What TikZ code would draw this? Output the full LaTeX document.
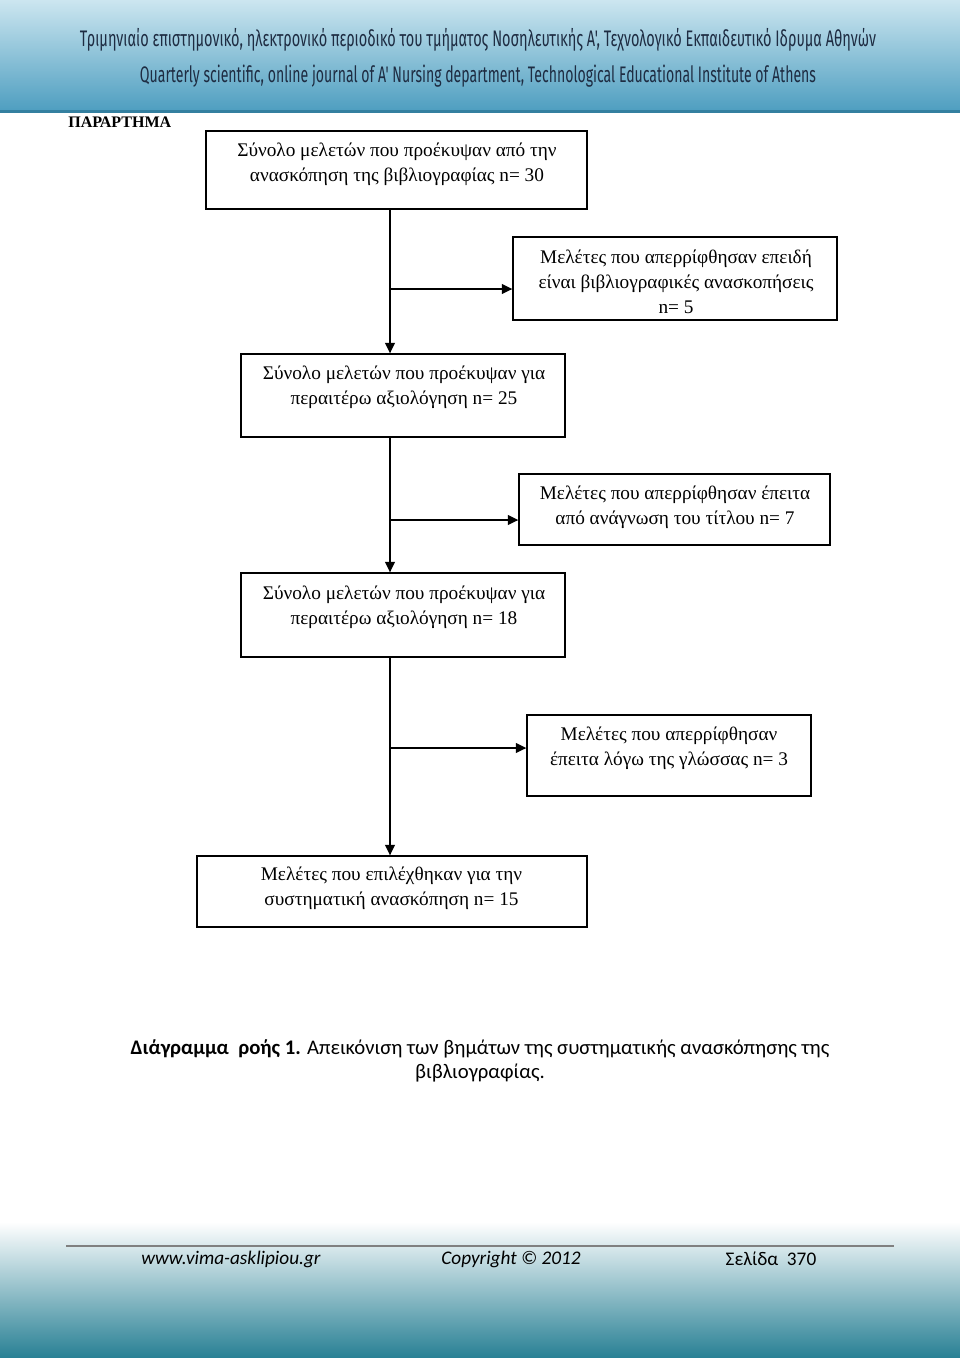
\documentclass[tikz,border=0pt]{standalone}
\usepackage{fontspec}
\setmainfont{Liberation Serif}
\newfontfamily\capfont{Carlito}
\newfontfamily\headfont{Fira Sans}
\usetikzlibrary{positioning,arrows.meta}
\newlength\px
\setlength\px{0.021875cm}
\definecolor{bantop}{RGB}{204,230,240}
\definecolor{banbot}{RGB}{78,158,192}
\definecolor{banedge}{RGB}{52,128,160}
\definecolor{headtxt}{RGB}{30,44,66}
\definecolor{footmid}{RGB}{206,218,224}
\definecolor{footbot}{RGB}{40,128,148}
\tikzset{
    box/.style={draw, line width=0.8pt},
    boxtxt/.style={align=center, inner sep=0pt, font=\fontsize{12}{15.5}\selectfont},
    arr/.style={line width=1pt, -{Triangle[length=6.5pt,width=6pt]}}
}
\begin{document}
\begin{tikzpicture}[x=\px, y=-\px]
    \useasboundingbox (0,0) rectangle (960,1358);
    % κεφαλίδα
    \shade[top color=bantop, bottom color=banbot] (0,0) rectangle (960,111);
    \fill[banedge] (0,110) rectangle (960,113);
    \node[headtxt, inner sep=0pt] (headgr) at (478,40)
        {\resizebox{796\px}{\height}{\headfont\fontsize{14}{14}\selectfont Τριμηνιαίο επιστημονικό, ηλεκτρονικό περιοδικό του τμήματος Νοσηλευτικής Α', Τεχνολογικό Εκπαιδευτικό Ιδρυμα Αθηνών}};
    \node[headtxt, inner sep=0pt] (headen) at (478,76)
        {\resizebox{676\px}{\height}{\headfont\fontsize{14}{14}\selectfont Quarterly scientific, online journal of A' Nursing department, Technological Educational Institute of Athens}};
    \node[anchor=west, inner sep=0pt, font=\fontsize{10}{12}\selectfont\bfseries] (annex) at (68,122) {ΠΑΡΑΡΤΗΜΑ};

    % κουτιά
    \node[box, minimum width=381\px, minimum height=78\px] (total) at (396.5,170) {};
    \node[boxtxt] (totaltxt) at (397,164.5) {Σύνολο μελετών που προέκυψαν από την\\ανασκόπηση της βιβλιογραφίας n= 30};
    \node[box, minimum width=324\px, minimum height=83\px] (r5) at (675,278.5) {};
    \node[boxtxt] (r5txt) at (676,282) {Μελέτες που απερρίφθησαν επειδή\\είναι βιβλιογραφικές ανασκοπήσεις\\n= 5};
    \node[box, minimum width=324\px, minimum height=83\px] (b25) at (403,395.5) {};
    \node[boxtxt] (b25txt) at (404,387.5) {Σύνολο μελετών που προέκυψαν για\\περαιτέρω αξιολόγηση n= 25};
    \node[box, minimum width=311\px, minimum height=71\px] (r7) at (674.5,509.5) {};
    \node[boxtxt] (r7txt) at (675,507) {Μελέτες που απερρίφθησαν έπειτα\\από ανάγνωση του τίτλου n= 7};
    \node[box, minimum width=324\px, minimum height=84\px] (b18) at (403,615) {};
    \node[boxtxt] (b18txt) at (404,607.5) {Σύνολο μελετών που προέκυψαν για\\περαιτέρω αξιολόγηση n= 18};
    \node[box, minimum width=284\px, minimum height=81\px] (r3) at (669,755.5) {};
    \node[boxtxt] (r3txt) at (669,748) {Μελέτες που απερρίφθησαν\\έπειτα λόγω της γλώσσας n= 3};
    \node[box, minimum width=390\px, minimum height=71\px] (sel) at (392,891.5) {};
    \node[boxtxt] (seltxt) at (391.5,888) {Μελέτες που επιλέχθηκαν για την\\συστηματική ανασκόπηση n= 15};

    % βέλη
    \coordinate (spine) at (390,0);
    \foreach \a/\b/\r/\y in {total/b25/r5/289, b25/b18/r7/520, b18/sel/r3/748} {
        \coordinate (br\r) at (390,\y);
        \draw[arr] (\a.south -| spine) -- (\b.north -| spine);
        \draw[arr] (br\r) -- (br\r -| \r.west);
    }

    % λεζάντα
    \node[align=center, inner sep=0pt, font=\capfont\fontsize{12.9}{15}\selectfont] (caption) at (480,1061)
        {\textbf{Διάγραμμα\ \ ροής 1.} Απεικόνιση των βημάτων της συστηματικής ανασκόπησης της\\βιβλιογραφίας.};

    % υποσέλιδο
    \shade[top color=white, middle color=footmid, bottom color=footbot] (0,1222) rectangle (960,1358);
    \draw[gray, line width=1.2pt] (66,1246) -- (894,1246);
    \node[inner sep=0pt, font=\capfont\itshape\fontsize{12}{14}\selectfont] (web) at (231,1259) {www.vima-asklipiou.gr};
    \node[inner sep=0pt, font=\capfont\itshape\fontsize{12}{14}\selectfont] (copy) at (511,1259) {Copyright © 2012};
    \node[inner sep=0pt, font=\capfont\fontsize{12}{14}\selectfont] (page) at (771,1259) {Σελίδα\ \ 370};
\end{tikzpicture}
\end{document}
